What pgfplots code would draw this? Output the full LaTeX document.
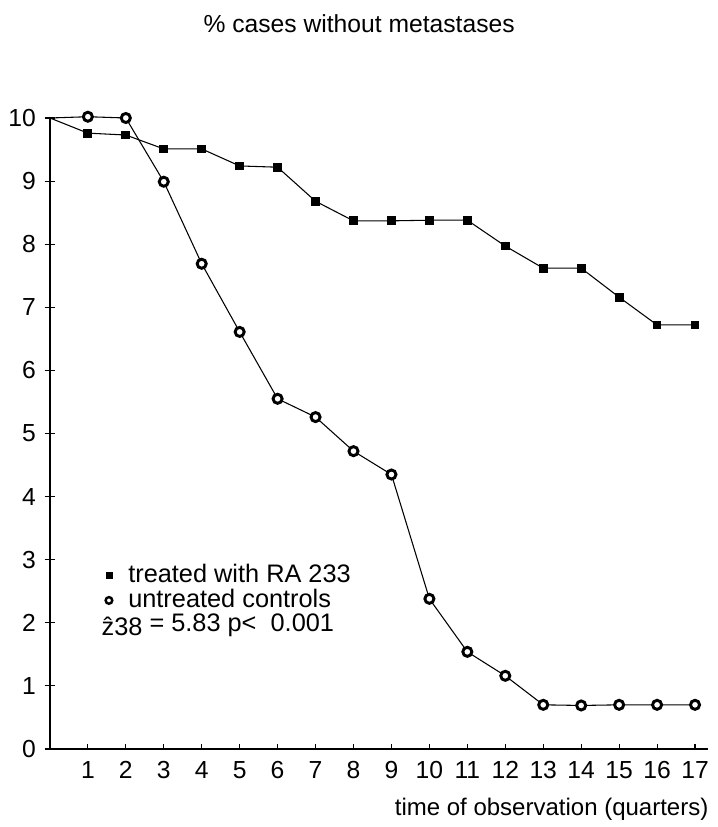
\documentclass[border=0pt]{standalone}
\usepackage{fontspec}
\setmainfont{Liberation Sans}
\usepackage{pgfplots}
\pgfplotsset{compat=1.18}
\begin{document}
\fontsize{19}{22}\selectfont
\begin{tikzpicture}[x=1pt,y=1pt]
\begin{axis}[
  scale only axis,
  width=493.5pt, height=473.25pt,
  at={(0pt,0pt)}, anchor=origin,
  xmin=0, xmax=17.34, ymin=0, ymax=10,
  axis x line=bottom, axis y line=left,
  axis line style={-, line width=1.5pt},
  xtick={1,...,17}, ytick={0,...,10},
  ytick align=center, xtick align=inside,
  major tick length=8pt,
  xtick style={line width=0.8pt, black, /pgfplots/major tick length=3.5pt},
  ytick style={line width=0.8pt, black},
  /pgf/number format/assume math mode=true,
  tick label style={font=\fontsize{18.5}{20}\selectfont},
  xticklabel style={yshift=-3pt},
  clip=false,
  legend style={draw=none, fill=none, at={(0.072,0.297)}, anchor=north west,
     font=\fontsize{19}{21}\selectfont, row sep=-2pt, inner sep=0pt,
     cells={anchor=west}},
  legend cell align=left,
]
\addplot[black, line width=0.8pt, mark=square*, mark size=2.9pt, mark indices={2,...,18}, forget plot] coordinates {
(0,10) (1,9.76) (2,9.73) (3,9.51) (4,9.51) (5,9.24) (6,9.22) (7,8.68) (8,8.37) (9,8.37)
(10,8.38) (11,8.38) (12,7.97) (13,7.62) (14,7.62) (15,7.16) (16,6.72) (17,6.72)};
\addplot[black, line width=0.8pt, mark=*, mark size=3.4pt, mark indices={2,...,18},
   mark options={line width=2.2pt, fill=white, draw=black}, forget plot] coordinates {
(0,10) (1,10.02) (2,10.0) (3,8.99) (4,7.69) (5,6.61) (6,5.55) (7,5.26) (8,4.72) (9,4.35)
(10,2.38) (11,1.54) (12,1.16) (13,0.7) (14,0.69) (15,0.7) (16,0.7) (17,0.7)};
\addlegendimage{only marks, mark=square*, mark size=2.2pt, black}
\addlegendentry{\hspace{10pt}treated with RA 233}
\addlegendimage{only marks, mark=*, mark size=2.5pt, mark options={line width=1.8pt, fill=white, draw=black}}
\addlegendentry{\hspace{10pt}untreated controls}
\addlegendimage{empty legend}
\addlegendentry{\hspace{-10pt}\raisebox{-3pt}{\^{z}38} = 5.83 p< \ 0.001}
\end{axis}
\node[anchor=base west, inner sep=0pt, font=\fontsize{18.5}{20}\selectfont] at (115pt,537pt) {\% cases without metastases};
\node[anchor=base east, inner sep=0pt, font=\fontsize{18}{20}\selectfont] at (494pt,-50pt) {time of observation (quarters)};
\path[use as bounding box] (-35.25pt,-58.5pt) rectangle (498.75pt,561.75pt);
\end{tikzpicture}
\end{document}
